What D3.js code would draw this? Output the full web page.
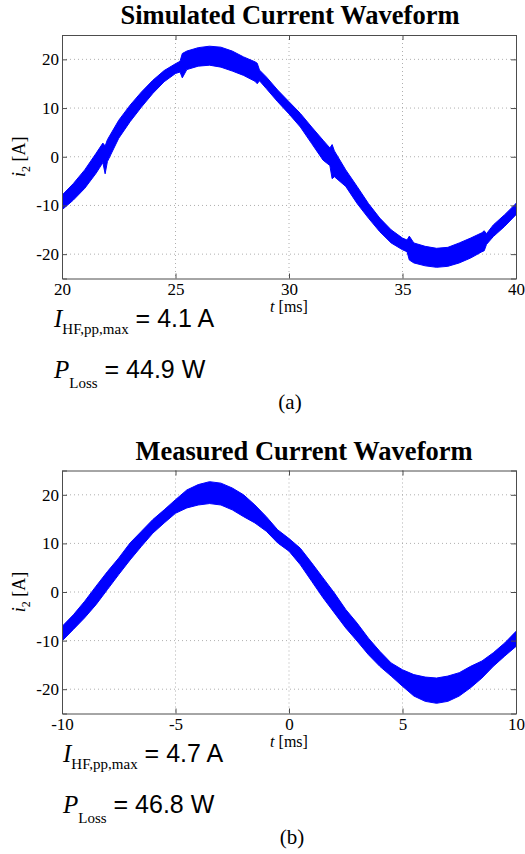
<!DOCTYPE html>
<html lang="en">
<head>
<meta charset="UTF-8">
<title>Current Waveforms</title>
<script src="https://cdn.jsdelivr.net/npm/d3@7"></script>
<style>
  body { margin: 0; background: #fff; }
  svg { display: block; }
  text { font-family: "Liberation Serif", "Times New Roman", serif; fill: #000; }
</style>
</head>
<body>
<script>
// simulated waveform: upper / lower envelope of the ripple band [A]
var simTime  = [20, 20.5, 21, 21.5, 21.8, 21.9, 22, 22.5, 23, 23.5, 24, 24.5, 25, 25.2, 25.3, 25.5, 26, 26.5, 27, 27.5, 28, 28.5, 28.6, 28.7, 29, 29.5,
                30, 30.5, 31, 31.5, 31.8, 31.9, 32, 32.5, 33, 33.5, 34, 34.5, 35, 35.2, 35.3, 35.5, 36, 36.5, 37, 37.5, 38, 38.5, 38.6, 38.7, 39, 39.5, 40];
var simUpper = [-7.9, -5.5, -2.7, 0.7, 2.8, 2.2, 3.5, 7.5, 10.6, 13.3, 15.7, 17.7, 19.1, 19.6, 21.2, 21.7, 22.4, 22.7, 22.5, 21.7, 20.5, 19.5, 19.2, 17.8, 16.4, 13.7,
                11.3, 8.9, 6.1, 3.4, 1.8, 2.5, 1.2, -2.7, -6.1, -9.6, -12.6, -15.0, -16.7, -17.1, -16.3, -17.7, -18.4, -18.8, -18.6, -17.7, -16.7, -15.6, -15.2, -15.8, -14.0, -11.9, -9.6];
var simLower = [-10.9, -8.9, -6.5, -3.4, -1.2, -3.5, -1.0, 3.8, 7.2, 10.2, 13.0, 15.4, 17.1, 17.4, 16.2, 17.9, 18.6, 18.8, 18.4, 17.6, 16.7, 15.5, 15.0, 15.6, 14.0, 11.3,
                8.8, 6.1, 2.7, -0.7, -1.8, -4.5, -4.1, -6.1, -9.6, -12.6, -15.4, -17.7, -19.1, -19.5, -21.2, -21.8, -22.4, -22.7, -22.5, -21.8, -20.8, -19.5, -19.3, -18.0, -16.4, -14.3, -11.9];

// measured waveform
var measTime  = [-10, -9.5, -9, -8.5, -8, -7.5, -7, -6.5, -6, -5.5, -5, -4.5, -4, -3.5, -3, -2.5, -2, -1.5, -1, -0.5,
                 0, 0.5, 1, 1.5, 2, 2.5, 3, 3.5, 4, 4.5, 5, 5.5, 6, 6.5, 7, 7.5, 8, 8.5, 9, 9.5, 10];
var measUpper = [-7.1, -4.7, -1.9, 1.2, 4.2, 7.0, 10.1, 12.5, 14.9, 16.9, 19.0, 21.0, 22.1, 22.7, 22.4, 21.4, 20.0, 17.9, 15.5, 12.8,
                 11.0, 9.0, 6.0, 2.9, -0.2, -3.6, -6.4, -9.5, -12.2, -14.6, -16.0, -17.0, -17.5, -17.7, -17.3, -16.6, -15.3, -14.2, -12.5, -10.5, -8.1];
var measLower = [-10.1, -7.7, -5.3, -2.6, 0.5, 3.6, 6.6, 9.4, 12.1, 14.2, 16.2, 17.3, 17.9, 18.2, 17.9, 16.9, 15.5, 14.2, 12.5, 10.1,
                 8.4, 5.6, 2.2, -1.2, -4.3, -7.4, -10.1, -12.9, -15.3, -17.3, -19.4, -21.4, -22.5, -22.9, -22.5, -21.4, -19.7, -17.7, -15.3, -13.2, -11.2];

var yTicks = [-20, -10, 0, 10, 20];
var simXTicks = [20, 25, 30, 35, 40];
var measXTicks = [-10, -5, 0, 5, 10];

var width = 525, height = 854;
var svg = d3.select("body").append("svg")
    .attr("width", width)
    .attr("height", height);

function drawPanel(opt) {
    var x = d3.scaleLinear().domain(opt.xDomain).range([62, 516]);
    var y = d3.scaleLinear().domain([-25, 25]).range([opt.bottom, opt.top]);
    var g = svg.append("g");
    var clipId = "clip" + opt.id;

    svg.append("clipPath").attr("id", clipId)
        .append("rect")
        .attr("x", 62).attr("y", opt.top)
        .attr("width", 454).attr("height", opt.bottom - opt.top);

    // title
    g.append("text")
        .attr("x", opt.titleX).attr("y", opt.top - 11)
        .attr("text-anchor", "middle")
        .style("font-size", "26.5px").style("font-weight", "bold")
        .text(opt.title);

    // dotted grid
    g.selectAll(".gx").data(opt.xTicks.slice(1, -1)).enter().append("line")
        .attr("x1", d => x(d)).attr("x2", d => x(d))
        .attr("y1", opt.top).attr("y2", opt.bottom)
        .attr("stroke", "#9a9a9a").attr("stroke-width", 0.8)
        .attr("stroke-dasharray", "1,3");
    g.selectAll(".gy").data(yTicks).enter().append("line")
        .attr("x1", 62).attr("x2", 516)
        .attr("y1", d => y(d)).attr("y2", d => y(d))
        .attr("stroke", "#9a9a9a").attr("stroke-width", 0.8)
        .attr("stroke-dasharray", "1,3");

    // waveform band
    var rows = opt.time.map((t, i) => ({t: t, hi: opt.upper[i], lo: opt.lower[i]}));
    var area = d3.area()
        .x(d => x(d.t))
        .y0(d => y(d.lo))
        .y1(d => y(d.hi));
    g.append("path")
        .datum(rows)
        .attr("clip-path", "url(#" + clipId + ")")
        .attr("d", area)
        .attr("fill", "#0000ff")
        .attr("stroke", "#0000ff")
        .attr("stroke-width", 1);

    // axes (ticks pointing inwards, box all round)
    var axB = d3.axisBottom(x).tickValues(opt.xTicks).tickSize(-5).tickPadding(4).tickFormat(d3.format("d"));
    var axT = d3.axisTop(x).tickValues(opt.xTicks).tickSize(-5).tickFormat("");
    var axL = d3.axisLeft(y).tickValues(yTicks).tickSize(-5).tickPadding(3).tickFormat(d3.format("d"));
    var axR = d3.axisRight(y).tickValues(yTicks).tickSize(-5).tickFormat("");

    [[axB, "translate(0," + opt.bottom + ")"], [axT, "translate(0," + opt.top + ")"],
     [axL, "translate(62,0)"], [axR, "translate(516,0)"]].forEach(function (a) {
        var ax = g.append("g").attr("transform", a[1]).call(a[0]);
        ax.selectAll("path, line").attr("stroke", "#4d4d4d");
        ax.selectAll("text")
            .style("font-family", '"Liberation Serif", serif')
            .style("font-size", "17px")
            .text(function (d) { return d3.select(this).text().replace("−", "-"); });
    });

    // axis labels
    var xl = g.append("text")
        .attr("x", 289).attr("y", opt.bottom + 33)
        .attr("text-anchor", "middle").style("font-size", "16px");
    xl.append("tspan").style("font-style", "italic").text("t");
    xl.append("tspan").text(" [ms]");

    var yl = g.append("text")
        .attr("transform", "translate(25," + ((opt.top + opt.bottom) / 2) + ") rotate(-90)")
        .attr("text-anchor", "middle").style("font-size", "18px");
    yl.append("tspan").style("font-style", "italic").text("i");
    yl.append("tspan").attr("dy", 5).style("font-size", "12px").text("2");
    yl.append("tspan").attr("dy", -5).text(" [A]");

    // annotations
    var a1 = g.append("text").attr("x", opt.noteX).attr("y", opt.bottom + 48);
    a1.append("tspan").style("font-style", "italic").style("font-size", "25px").text("I");
    a1.append("tspan").attr("dy", 7).style("font-size", "15px").text("HF,pp,max");
    a1.append("tspan").attr("dy", -7)
        .style("font-family", '"Liberation Sans", Arial, sans-serif').style("font-size", "25px")
        .text(" = " + opt.ihf);

    var a2 = g.append("text").attr("x", opt.noteX).attr("y", opt.bottom + 99);
    a2.append("tspan").style("font-style", "italic").style("font-size", "25px").text("P");
    a2.append("tspan").attr("dy", 10).style("font-size", "15px").text("Loss");
    a2.append("tspan").attr("dy", -10)
        .style("font-family", '"Liberation Sans", Arial, sans-serif').style("font-size", "25px")
        .text(" = " + opt.ploss);

    g.append("text")
        .attr("x", opt.capX).attr("y", opt.bottom + 130)
        .attr("text-anchor", "middle").style("font-size", "21px")
        .text(opt.caption);
}

drawPanel({
    id: "a", title: "Simulated Current Waveform", titleX: 290,
    top: 35, bottom: 278.5, xDomain: [20, 40], xTicks: simXTicks,
    time: simTime, upper: simUpper, lower: simLower,
    noteX: 54, ihf: "4.1 A", ploss: "44.9 W", capX: 290, caption: "(a)"
});

drawPanel({
    id: "b", title: "Measured Current Waveform", titleX: 304,
    top: 470.5, bottom: 713.5, xDomain: [-10, 10], xTicks: measXTicks,
    time: measTime, upper: measUpper, lower: measLower,
    noteX: 63, ihf: "4.7 A", ploss: "46.8 W", capX: 292, caption: "(b)"
});
</script>
</body>
</html>
